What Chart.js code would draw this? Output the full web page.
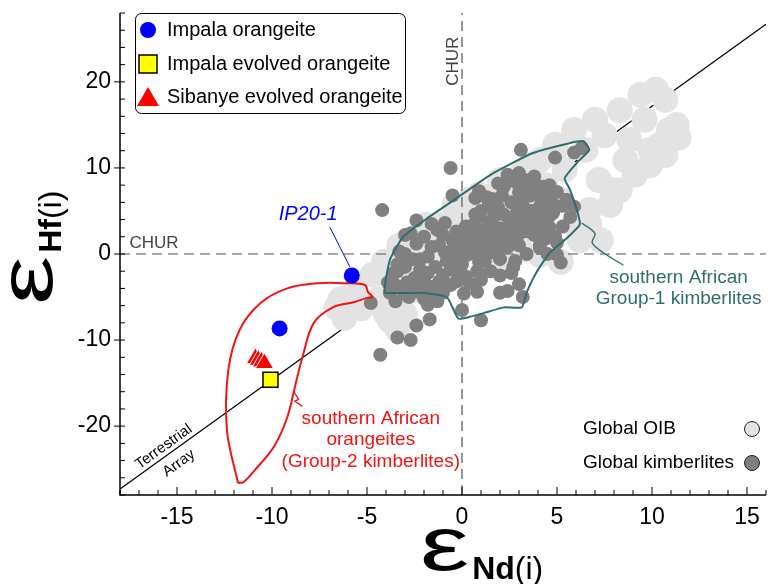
<!DOCTYPE html>
<html lang="en">
<head>
<meta charset="UTF-8">
<title>eHf vs eNd</title>
<script src="https://cdn.jsdelivr.net/npm/chart.js"></script>
<style>
  html, body { margin: 0; padding: 0; background: #fff; }
</style>
</head>
<body>
<canvas id="hfNdChart" width="770" height="584"></canvas>
<script>
var FONT = "'Liberation Sans', Arial, Helvetica, sans-serif";

var xTickValues = [-15, -10, -5, 0, 5, 10, 15];
var yTickValues = [-20, -10, 0, 10, 20];

// samples from this study
var impalaNd = [-5.8, -9.6];
var impalaHf = [-2.5, -8.65];
var impalaEvolvedNd = [-10.08];
var impalaEvolvedHf = [-14.6];
var sibanyeNd = [-10.87, -10.72, -10.56, -10.4];
var sibanyeHf = [-12.12, -12.32, -12.51, -12.7];

// reference lines
var terrestrialNd = [-18, 16];
var terrestrialHf = [-27.3, 26.7];
var churNd = [-18, 16];
var churHf = [0, 0];
var churVNd = [0, 0];
var churVHf = [-28, 28];

// southern African orangeite field (Group-2)
var orangeiteNd = [-11.79, -12.37, -12.3, -11.7, -10.6, -9.2, -7.6, -6.05, -5.1, -4.95, -4.7, -5.0, -5.7, -6.8, -7.8, -8.4, -8.8, -9.2, -9.9, -10.9, -11.5, -11.79];
var orangeiteHf = [-26.6, -20.5, -13.5, -8.8, -5.7, -4.0, -3.4, -3.4, -3.6, -4.4, -5.0, -5.1, -5.6, -6.2, -8.0, -12.0, -15.5, -19.0, -22.4, -25.1, -26.5, -26.6];
var orangeiteLeaderNd = [-8.85, -8.6, -8.8, -8.4];
var orangeiteLeaderHf = [-16.0, -16.9, -17.1, -17.7];

// southern African Group-1 kimberlite field
var group1Nd = [-4.05, -4.05, -2.2, -0.8, -0.2, 0.4, 1.1, 2.2, 3.15, 3.4, 3.9, 4.6, 5.6, 6.2, 6.1, 5.7, 5.4, 6.05, 6.7, 6.4, 5.7, 3.7, 1.5, -0.6, -1.8, -3.1, -3.8, -4.05];
var group1Hf = [-3.4, -4.5, -4.5, -5.0, -7.5, -7.3, -6.9, -6.2, -6.2, -4.5, -2.2, 0.1, 2.0, 3.4, 4.7, 7.4, 8.8, 10.6, 12.1, 13.1, 12.9, 11.7, 9.2, 6.0, 4.2, 2.0, -0.7, -3.4];
var group1LeaderNd = [6.3, 7.0, 6.85, 7.4, 8.5];
var group1LeaderHf = [3.6, 2.4, 1.3, 0.2, -1.3];

var ipLeaderNd = [-6.95, -5.9];
var ipLeaderHf = [3.1, -1.5];

// global OIB
var oibNd = [-6.4, -6.2, -5.6, -5.3, -4.7, -4.4, -3.8, -3.5, -4.1, -3.3, -2.7, -2.2, -2.5, -1.7, -1.2, -1.9, -3.4, -3.0, -6.6, -4.0,
  -0.6, -0.4, 0.4, 0.9, 1.5, 2.0, 2.5, 3.1, 3.6, 4.1, 4.4, 4.9, 5.2, 5.4, 5.9, 5.9, 6.5, 6.7, 7.0, 7.2,
  7.5, 7.9, 8.3, 8.6, 8.8, 9.4, 9.6, 9.9, 10.2, 10.7, 10.9, 11.4, 10.4, 7.3,
  -2.7, -1.2, 0.4, 2.0, 3.6, 4.9,
  1.2, 2.0, 4.1, 5.2, 3.1, 6.2, 6.7, 7.8, 8.3, 9.1, 9.9, 10.7, 11.3];
var oibHf = [-5.3, -7.4, -4.2, -6.3, -2.4, -5.3, -7.7, -4.8, -0.9, 1.0, -1.9, -0.1, -4.2, 1.6, -0.9, 3.4, -8.8, -7.0, -6.2, -7.0,
  2.8, 5.7, 4.5, 6.9, 3.4, 8.0, 5.7, 9.2, 6.9, 10.9, 8.0, 12.7, 6.3, 9.8, 14.4, 3.4, 12.1, 5.1, 15.6, 8.6,
  13.8, 7.4, 16.7, 10.9, 13.3, 18.5, 15.6, 12.1, 19.1, 17.9, 14.4, 13.5, 12.7, 1.6,
  1.0, 3.4, 6.3, 8.6, 10.3, 12.1,
  -1.3, -0.5, -0.1, -0.9, 0.5, 1.6, 3.4, 5.7, 7.4, 9.2, 10.3, 11.5, 15.0];

// global kimberlites
var kimberliteNd = [3.1, 4.9, 5.9, 6.3, -0.6, -0.5, 0.7, -4.2, 0.9, -2.4, -2.7, -4.3, -3.4, -2.7, -2.4, -1.7, -1.8, -4.8, -3.6, 0.0,
  1.0, 2.0, 2.6, 3.0, 2.4, 3.2, 2.0, 0.4, 0.8, 4.6, 5.0, 4.1, 5.2, 4.6, 4.9, 5.7, 5.9, 4.1, 5.0, 5.5,
  5.0, 4.6, -3.8, -3.2, -3.5, -2.8, -2.9, -2.3, -2.0, -1.7, -1.5, -1.0, -1.0, -0.6, -0.2, -1.4, -2.2, -3.0, -2.6, -1.8,
  -0.8, 0.0, 0.3, -0.5, 0.8, 1.2, 1.5, 0.5, 1.0, 1.6, 2.0, 2.4, 1.8, 1.2, 2.5, 3.0, 3.2, 2.7, 2.0, 3.6,
  3.0, 2.2, 3.8, 3.2, 2.6, 4.2, 3.6, 4.5, 3.0, 2.2, 2.8, 3.6, 1.6, 1.0, -0.3, -1.3, -2.0, -1.2, 0.3, 1.5,
  -3.0, -3.3, -3.4, -3.9, -1.3, 3.9, 4.3, 1.9, 0.6, 3.0, 3.8, 1.9, 1.3, 4.8, 5.3, -0.1, 2.8, 3.4, -0.6, 0.1, 4.3,
  -3.6, -3.2, -2.5, -1.9, -1.2, -0.4, 0.2, -0.9, -1.6, -2.4, 0.0, 0.9, 1.9, 1.4, 2.2, 2.9, 3.5, 4.0, 3.3, 2.5,
  1.7, 2.9, 3.6, 4.1, 4.7, 2.1, 3.2, 3.9, 3.3, 1.4, 0.7, 0.2, -0.9, -1.6, 0.9, 2.7, 4.4, 4.5, 1.0, -0.3,
  -3.0, -2.0, -3.7, -0.5, 1.6, 2.6, 3.8, 4.3, -2.2, 0.5,
  -3.0, -3.4, -2.0, -1.4, -2.6, -1.8, -0.3, 0.6, -0.2, 0.6, 1.3, 2.0, 2.8, 3.9, 4.6, 5.3, 4.2, 2.4, 0.9, -1.0];
var kimberliteHf = [12.1, 11.2, 11.8, 12.3, 10.0, 6.8, 6.5, 5.1, 4.3, 3.9, 2.4, -11.7, -9.7, -10.0, -8.3, -7.6, -5.9, -5.7, -3.4, -6.5,
  -7.7, -2.5, -2.2, -3.5, -4.3, -5.0, -4.5, -3.4, -4.4, 2.4, 1.3, 0.7, -1.0, 3.1, 2.0, 4.3, 5.5, 1.0, -0.1, 6.3,
  7.2, 8.0, -4.5, -4.0, -5.5, -5.0, -3.3, -4.4, -3.0, -5.0, -3.8, -4.5, -2.5, -3.6, -2.3, -1.5, -1.8, -1.5, -0.6, -0.3,
  -0.8, -1.2, -0.1, 0.5, -2.0, -0.8, -2.0, 1.0, 0.6, 0.2, -0.6, 0.8, 1.6, 2.0, 2.0, 1.0, 2.6, 3.3, 3.0, 3.6,
  4.2, 4.6, 5.0, 5.6, 6.0, 6.0, 6.8, 7.0, 7.2, 7.8, 8.4, 8.0, 6.4, 5.0, 2.6, 2.8, 2.0, 1.0, 2.2, 3.8,
  2.2, 0.3, -2.0, -3.3, -5.5, 4.2, 5.0, 5.4, 3.4, 9.4, 9.0, 8.2, 6.6, 4.8, 3.2, 1.5, -0.8, 0.0, -1.8, -4.6, 3.8,
  -2.2, -1.0, -2.8, -4.0, -3.2, -1.5, -2.6, 0.2, 0.8, 1.2, 0.9, -0.9, 0.5, 1.2, 1.4, 2.0, 2.6, 3.0, 3.9, 4.0,
  4.4, 5.0, 5.0, 5.5, 6.2, 6.8, 6.6, 7.4, 8.6, 5.6, 4.6, 3.2, 3.6, 3.5, 2.7, -1.5, 1.8, 0.0, -3.0, -3.2,
  -4.6, -5.2, -3.8, 1.6, 2.6, 3.0, 2.2, 7.8, -0.6, 1.8,
  0.0, -1.2, -4.6, -4.4, -3.6, -2.2, -0.5, 0.2, 1.7, 1.6, 3.0, 2.2, 2.8, 2.2, 4.4, 5.6, 7.8, 9.2, 7.3, 2.2];

function pairs(xs, ys) {
  return xs.map(function (x, i) { return { x: x, y: ys[i] }; });
}

function lineSet(xs, ys, color, width, order, extra) {
  var ds = {
    data: pairs(xs, ys),
    showLine: true,
    borderColor: color,
    borderWidth: width,
    pointRadius: 0,
    fill: false,
    order: order
  };
  for (var k in extra) ds[k] = extra[k];
  return ds;
}

function txt(ctx, s, x, y, font, color, align) {
  ctx.font = font;
  ctx.fillStyle = color;
  ctx.textAlign = align || 'center';
  ctx.textBaseline = 'middle';
  ctx.fillText(s, x, y);
}

// big epsilon with a subscript like "Nd(i)", drawn at the current origin
function epsTitle(ctx, sub) {
  ctx.textAlign = 'left';
  ctx.textBaseline = 'alphabetic';
  ctx.fillStyle = '#000';
  ctx.font = '76px ' + FONT;
  var w = ctx.measureText('\u03b5').width * 1.45;
  ctx.save();
  ctx.scale(1.45, 1);
  ctx.fillText('\u03b5', 0, 0);
  ctx.restore();
  ctx.font = 'bold 32px ' + FONT;
  ctx.fillText(sub, w + 3, 9);
  var sw = ctx.measureText(sub).width;
  ctx.font = '32px ' + FONT;
  ctx.fillText('(i)', w + 3 + sw, 9);
}

var decorPlugin = {
  id: 'decor',
  afterDraw: function (chart) {
    var ctx = chart.ctx, a = chart.chartArea;
    var xs = chart.scales.x, ys = chart.scales.y;
    function X(v) { return xs.getPixelForValue(v); }
    function Y(v) { return ys.getPixelForValue(v); }
    ctx.save();

    // axes and ticks
    ctx.strokeStyle = '#000';
    ctx.lineWidth = 1.5;
    ctx.beginPath();
    ctx.moveTo(a.left, a.top);
    ctx.lineTo(a.left, a.bottom);
    ctx.lineTo(a.right, a.bottom);
    ctx.stroke();
    ctx.lineWidth = 1;
    for (var v = -18; v <= 16; v++) {
      var len = (v % 5 === 0) ? 8 : 5;
      ctx.beginPath();
      ctx.moveTo(X(v), a.bottom);
      ctx.lineTo(X(v), a.bottom - len);
      ctx.stroke();
    }
    for (var w = -28; w <= 28; w += 2) {
      ctx.beginPath();
      if (w % 10 === 0) { ctx.moveTo(a.left - 6, Y(w)); ctx.lineTo(a.left + 5, Y(w)); }
      else { ctx.moveTo(a.left, Y(w)); ctx.lineTo(a.left + 5, Y(w)); }
      ctx.stroke();
    }

    // labels inside the plot
    txt(ctx, 'CHUR', X(-17.5), Y(1.2), '17px ' + FONT, '#444', 'left');
    ctx.save();
    ctx.translate(X(-0.47), Y(22.4));
    ctx.rotate(-Math.PI / 2);
    txt(ctx, 'CHUR', 0, 0, '17px ' + FONT, '#444');
    ctx.restore();

    txt(ctx, 'IP20-1', X(-8.1), Y(4.6), 'italic 20px ' + FONT, '#0000ff');

    var red = '#f01414';
    txt(ctx, 'southern African', X(-4.8), Y(-19.2), '19px ' + FONT, red);
    txt(ctx, 'orangeites', X(-4.8), Y(-21.6), '19px ' + FONT, red);
    txt(ctx, '(Group-2 kimberlites)', X(-4.8), Y(-24.1), '19px ' + FONT, red);

    var teal = '#2f6e6e';
    txt(ctx, 'southern African', X(11.4), Y(-2.8), '19px ' + FONT, teal);
    txt(ctx, 'Group-1 kimberlites', X(11.4), Y(-5.2), '19px ' + FONT, teal);

    var ang = Math.atan2(Y(terrestrialHf[1]) - Y(terrestrialHf[0]), X(terrestrialNd[1]) - X(terrestrialNd[0]));
    [['Terrestrial', -15.7, -22.4], ['Array', -14.9, -24.3]].forEach(function (t) {
      ctx.save();
      ctx.translate(X(t[1]), Y(t[2]));
      ctx.rotate(ang);
      txt(ctx, t[0], 0, 0, '15px ' + FONT, '#000');
      ctx.restore();
    });

    // legend, top left
    ctx.fillStyle = '#fff';
    ctx.strokeStyle = '#000';
    ctx.lineWidth = 1;
    ctx.beginPath();
    ctx.roundRect(135.5, 13.5, 270, 100, 6);
    ctx.fill();
    ctx.stroke();
    ctx.fillStyle = '#0000ff';
    ctx.beginPath(); ctx.arc(148, 30, 8, 0, Math.PI * 2); ctx.fill();
    ctx.fillStyle = '#ffff00';
    ctx.lineWidth = 1.5;
    ctx.fillRect(139, 55, 18, 18);
    ctx.strokeRect(139, 55, 18, 18);
    ctx.fillStyle = '#ff0000';
    ctx.beginPath(); ctx.moveTo(148, 87); ctx.lineTo(159, 106); ctx.lineTo(137, 106); ctx.closePath(); ctx.fill();
    txt(ctx, 'Impala orangeite', 167, 30, '20px ' + FONT, '#000', 'left');
    txt(ctx, 'Impala evolved orangeite', 167, 64, '20px ' + FONT, '#000', 'left');
    txt(ctx, 'Sibanye evolved orangeite', 167, 97, '20px ' + FONT, '#000', 'left');

    // legend, bottom right
    txt(ctx, 'Global OIB', 583, 429, '19px ' + FONT, '#000', 'left');
    txt(ctx, 'Global kimberlites', 583, 463, '19px ' + FONT, '#000', 'left');
    ctx.lineWidth = 1;
    ctx.strokeStyle = '#222';
    ctx.fillStyle = '#e3e3e3';
    ctx.beginPath(); ctx.arc(752, 429, 7.5, 0, Math.PI * 2); ctx.fill(); ctx.stroke();
    ctx.fillStyle = '#808080';
    ctx.beginPath(); ctx.arc(752, 463, 7.5, 0, Math.PI * 2); ctx.fill(); ctx.stroke();

    // axis titles
    ctx.save();
    ctx.translate(420, 570);
    epsTitle(ctx, 'Nd');
    ctx.restore();

    ctx.save();
    ctx.translate(52, 305);
    ctx.rotate(-Math.PI / 2);
    epsTitle(ctx, 'Hf');
    ctx.restore();

    ctx.restore();
  }
};

var ctx = document.getElementById('hfNdChart').getContext('2d');
var hfNdChart = new Chart(ctx, {
  type: 'scatter',
  data: {
    datasets: [
      { label: 'Impala orangeite', data: pairs(impalaNd, impalaHf), pointStyle: 'circle', pointRadius: 8,
        backgroundColor: '#0000ff', borderWidth: 0, order: 0 },
      { label: 'Impala evolved orangeite', data: pairs(impalaEvolvedNd, impalaEvolvedHf), pointStyle: 'rect', pointRadius: 10.6,
        backgroundColor: '#ffff00', borderColor: '#000', borderWidth: 1.5, order: 1 },
      { label: 'Sibanye evolved orangeite', data: pairs(sibanyeNd, sibanyeHf), pointStyle: 'triangle', pointRadius: 10.5,
        backgroundColor: '#ff0000', borderColor: '#fff', borderWidth: 1, order: 2 },
      lineSet(ipLeaderNd, ipLeaderHf, '#0000ff', 1, 3),
      lineSet(orangeiteNd, orangeiteHf, '#f01414', 2, 4, { tension: 0.35 }),
      lineSet(orangeiteLeaderNd, orangeiteLeaderHf, '#f01414', 1.3, 4),
      lineSet(group1Nd, group1Hf, '#2f6e6e', 2, 5, { tension: 0.15 }),
      lineSet(group1LeaderNd, group1LeaderHf, '#2f6e6e', 1.3, 5, { tension: 0.3 }),
      { label: 'Global kimberlites', data: pairs(kimberliteNd, kimberliteHf), pointRadius: 7,
        backgroundColor: '#808080', borderWidth: 0, order: 6 },
      lineSet(churNd, churHf, '#555', 1.2, 7, { borderDash: [10, 6] }),
      lineSet(churVNd, churVHf, '#555', 1.2, 7, { borderDash: [10, 6] }),
      { label: 'Global OIB', data: pairs(oibNd, oibHf), pointRadius: 13,
        backgroundColor: '#e3e3e3', borderWidth: 0, order: 8 },
      lineSet(terrestrialNd, terrestrialHf, '#000', 1.3, 9)
    ]
  },
  options: {
    responsive: false,
    animation: false,
    events: [],
    layout: { autoPadding: false, padding: { top: 13, right: 4, left: 0, bottom: 0 } },
    plugins: { legend: { display: false }, tooltip: { enabled: false } },
    scales: {
      x: {
        type: 'linear', min: -18, max: 16,
        grid: { display: false, drawTicks: false },
        border: { display: false },
        ticks: { font: { family: FONT, size: 23 }, color: '#000', padding: 9, maxRotation: 0, autoSkip: false },
        afterBuildTicks: function (s) { s.ticks = xTickValues.map(function (v) { return { value: v }; }); },
        afterFit: function (s) { s.height = 89; s.paddingLeft = 0; s.paddingRight = 0; }
      },
      y: {
        type: 'linear', min: -28, max: 28,
        grid: { display: false, drawTicks: false },
        border: { display: false },
        ticks: { font: { family: FONT, size: 23 }, color: '#000', padding: 9, autoSkip: false },
        afterBuildTicks: function (s) { s.ticks = yTickValues.map(function (v) { return { value: v }; }); },
        afterFit: function (s) { s.width = 120; s.paddingTop = 0; s.paddingBottom = 0; }
      }
    }
  },
  plugins: [decorPlugin]
});
</script>
</body>
</html>
